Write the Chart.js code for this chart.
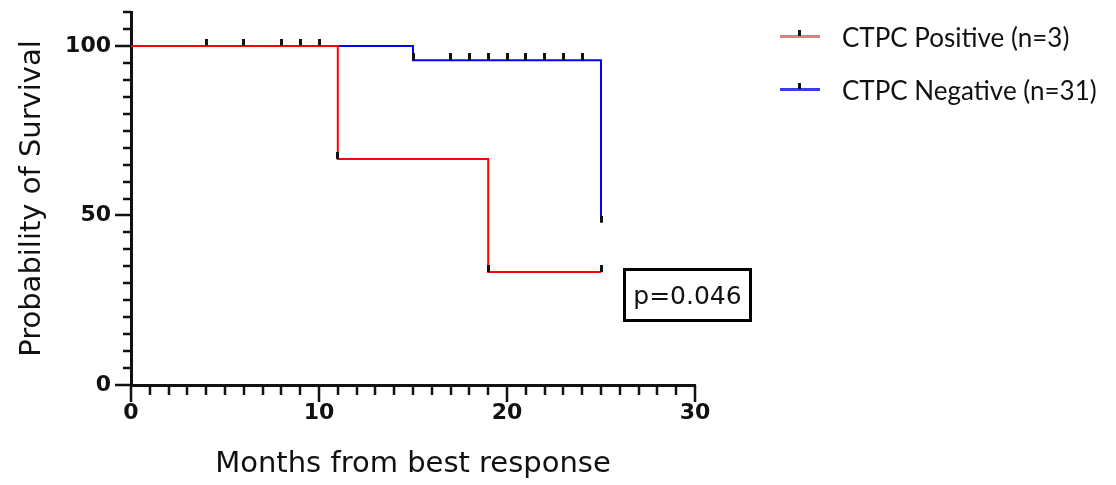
<!DOCTYPE html>
<html>
<head>
<meta charset="utf-8">
<title>Survival by CTPC status</title>
<script src="https://cdn.jsdelivr.net/npm/chart.js@4.4.1/dist/chart.umd.min.js"></script>
<style>
  body { margin: 0; background: #fff; }
  #wrap { position: relative; width: 1116px; height: 485px; }
  .legend { position: absolute; left: 780px; top: 10px; font-family: Lato, "Open Sans", sans-serif; font-size: 26px; color: #111; }
  .legend-item { display: flex; align-items: center; height: 53px; }
  .swatch { position: relative; width: 40px; height: 3px; margin-right: 22px; }
  .swatch::after { content: ""; position: absolute; left: 18px; top: -5px; width: 3px; height: 6px; background: #111; }
  .pbox { position: absolute; left: 623px; top: 268px; width: 129px; height: 54px; box-sizing: border-box;
          border: 3px solid #000; display: flex; align-items: center; justify-content: center;
          font-family: "DejaVu Sans", sans-serif; font-size: 25px; color: #111; }
</style>
</head>
<body>
<div id="wrap">
  <canvas id="kmChart" width="1116" height="485"></canvas>
  <div class="legend" id="legend"></div>
  <div class="pbox">p=0.046</div>
</div>
<script>
// Kaplan-Meier steps (months, % surviving)
const groupNames = ['CTPC Positive (n=3)', 'CTPC Negative (n=31)'];
const posTimes = [0, 11, 19, 25];
const posSurv = [100, 66.67, 33.33, 33.33];
const negTimes = [0, 15, 25];
const negSurv = [100, 95.8, 47.9];
// censor ticks (months)
const posCensor = [11, 19, 25];
const negCensor = [4, 6, 8, 9, 10, 15, 17, 18, 19, 20, 21, 22, 23, 24, 25];
const xTicks = [0, 10, 20, 30];
const yTicks = [0, 50, 100];

const lineColors = ['#ff0000', '#0000ff'];
const swatchColors = ['#ea7b7b', '#3a3aee'];

// value of the step curve at time t
function survAt(times, surv, t) {
  let v = surv[0];
  for (let i = 0; i < times.length; i++) {
    if (times[i] <= t) v = surv[i];
  }
  return v;
}

// small upward tick used for censored subjects
const tick = document.createElement('canvas');
tick.width = 3;
tick.height = 14;
const tctx = tick.getContext('2d');
tctx.fillStyle = '#111';
tctx.fillRect(0, 0, 3, 7);

const stepLine = (times, surv, color, order, label) => ({
  type: 'line',
  label: label,
  data: times.map((t, i) => ({ x: t, y: surv[i] })),
  borderColor: color,
  borderWidth: 2,
  stepped: 'before',
  pointRadius: 0,
  fill: false,
  order: order
});

const censorSet = (times, surv, censor) => ({
  type: 'scatter',
  data: censor.map(t => ({ x: t, y: survAt(times, surv, t) })),
  pointStyle: tick,
  pointRadius: 4,
  order: 0
});

// axis tick marks, major ones longer
const axisTicks = {
  id: 'axisTicks',
  afterDraw(chart) {
    const { ctx, chartArea, scales } = chart;
    ctx.save();
    ctx.strokeStyle = '#111';
    ctx.lineWidth = 2.5;
    ctx.beginPath();
    scales.x.ticks.forEach(t => {
      const px = Math.round(scales.x.getPixelForValue(t.value));
      const len = xTicks.includes(t.value) ? 17 : 10;
      ctx.moveTo(px, chartArea.bottom);
      ctx.lineTo(px, chartArea.bottom + len);
    });
    scales.y.ticks.forEach(t => {
      const py = Math.round(scales.y.getPixelForValue(t.value));
      const len = yTicks.includes(t.value) ? 16 : 8;
      ctx.moveTo(chartArea.left - len, py);
      ctx.lineTo(chartArea.left, py);
    });
    ctx.stroke();
    ctx.restore();
  }
};

const ctx = document.getElementById('kmChart').getContext('2d');
new Chart(ctx, {
  data: {
    datasets: [
      censorSet(posTimes, posSurv, posCensor),
      censorSet(negTimes, negSurv, negCensor),
      stepLine(posTimes, posSurv, lineColors[0], 1, groupNames[0]),
      stepLine(negTimes, negSurv, lineColors[1], 2, groupNames[1])
    ]
  },
  options: {
    responsive: false,
    animation: false,
    layout: { padding: { top: 12, right: 421, left: 0, bottom: 0 } },
    scales: {
      x: {
        type: 'linear',
        min: 0,
        max: 30,
        afterFit: s => { s.height = 100; s.paddingLeft = 0; s.paddingRight = 0; },
        grid: { display: false, drawTicks: false },
        border: { display: true, color: '#111', width: 3 },
        ticks: {
          stepSize: 1,
          autoSkip: false,
          maxRotation: 0,
          padding: 15,
          color: '#111',
          font: { family: 'DejaVu Sans', size: 22, weight: 'bold' },
          callback: v => xTicks.includes(v) ? v : ''
        },
        title: {
          display: true,
          text: 'Months from best response',
          color: '#111',
          padding: { top: 4, bottom: 3 },
          font: { family: 'DejaVu Sans', size: 29 }
        }
      },
      y: {
        min: 0,
        max: 110,
        afterFit: s => { s.width = 131; s.paddingTop = 0; s.paddingBottom = 0; },
        grid: { display: false, drawTicks: false },
        border: { display: true, color: '#111', width: 3 },
        ticks: {
          stepSize: 5,
          autoSkip: false,
          padding: 20,
          color: '#111',
          font: { family: 'DejaVu Sans', size: 22, weight: 'bold' },
          callback: v => yTicks.includes(v) ? v : ''
        },
        title: {
          display: true,
          text: 'Probability of Survival',
          color: '#111',
          padding: { top: 15, bottom: 4 },
          font: { family: 'DejaVu Sans', size: 29 }
        }
      }
    },
    plugins: {
      legend: { display: false },
      tooltip: { enabled: false }
    }
  },
  plugins: [axisTicks]
});

// legend built next to the plot
const legend = document.getElementById('legend');
groupNames.forEach((name, i) => {
  const item = document.createElement('div');
  item.className = 'legend-item';
  const sw = document.createElement('span');
  sw.className = 'swatch';
  sw.style.background = swatchColors[i];
  const txt = document.createElement('span');
  txt.textContent = name;
  item.appendChild(sw);
  item.appendChild(txt);
  legend.appendChild(item);
});
</script>
</body>
</html>
